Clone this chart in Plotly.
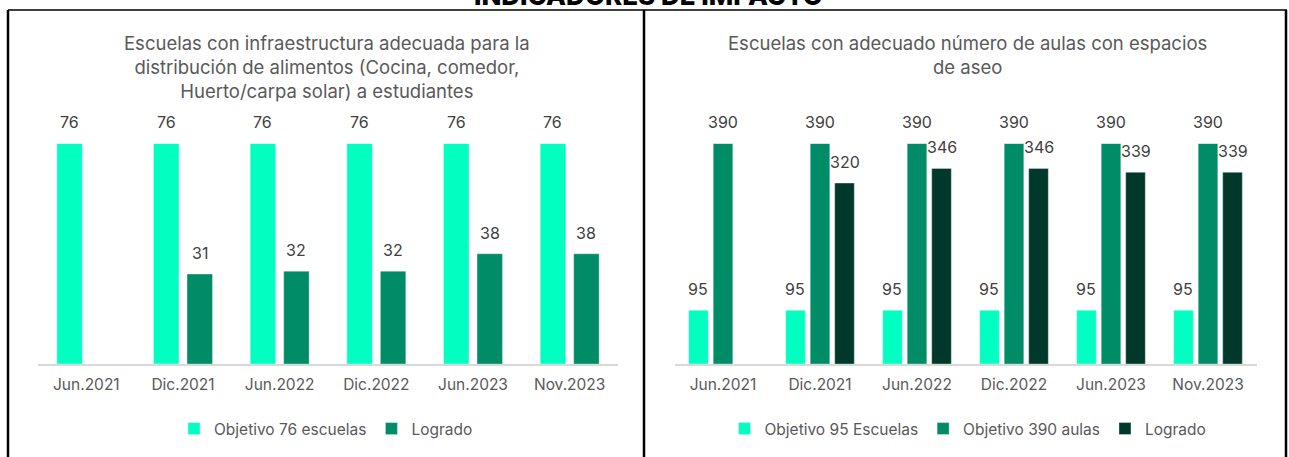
import plotly.graph_objects as go

# data
periods = ["Jun.2021", "Dic.2021", "Jun.2022", "Dic.2022", "Jun.2023", "Nov.2023"]

infra_objetivo = [76, 76, 76, 76, 76, 76]
infra_logrado = [None, 31, 32, 32, 38, 38]

aulas_objetivo_escuelas = [95, 95, 95, 95, 95, 95]
aulas_objetivo_aulas = [390, 390, 390, 390, 390, 390]
aulas_logrado = [None, 320, 346, 346, 339, 339]

W, H = 1289, 457
FONT = "Inter"
CYAN = "#00FFC0"
TEAL = "#008C66"
DARK = "#00392B"
GRAY = "#595959"


def px_x(p):
    return p / W


def px_y(p):
    return 1 - p / H


def group_geometry(n, group_frac, gap_frac):
    # width and offsets of n bars sharing one category slot
    slot = group_frac / n
    width = slot * (1 - gap_frac)
    offsets = [-group_frac / 2 + i * slot + slot * gap_frac / 2 for i in range(n)]
    return width, offsets


fig = go.Figure()
annotations = []

panels = [
    dict(xaxis="x", yaxis="y", legend="legend", group=0.693, gap=0.24,
         series=[("Objetivo 76 escuelas", infra_objetivo, CYAN),
                 ("Logrado", infra_logrado, TEAL)]),
    dict(xaxis="x2", yaxis="y2", legend="legend2", group=0.758, gap=0.2,
         series=[("Objetivo 95 Escuelas", aulas_objetivo_escuelas, CYAN),
                 ("Objetivo 390 aulas", aulas_objetivo_aulas, TEAL),
                 ("Logrado", aulas_logrado, DARK)]),
]

for panel in panels:
    width, offsets = group_geometry(len(panel["series"]), panel["group"], panel["gap"])
    for (name, values, color), off in zip(panel["series"], offsets):
        fig.add_trace(go.Bar(
            x=periods, y=values, name=name,
            xaxis=panel["xaxis"], yaxis=panel["yaxis"], legend=panel["legend"],
            width=width, offset=off,
            marker=dict(color=color, line=dict(color="rgba(255,255,255,0.35)", width=1)),
            hoverinfo="x+y+name",
        ))
        for i, v in enumerate(values):
            if v is None:
                continue
            annotations.append(dict(
                x=i + off + width / 2, y=v, xref=panel["xaxis"], yref=panel["yaxis"],
                text=str(v), showarrow=False, xanchor="center", yanchor="bottom", yshift=9,
                font=dict(family=FONT, size=16, color="#404040"),
            ))

# panel titles
annotations.append(dict(
    x=px_x(327), y=px_y(30), xref="paper", yref="paper", xanchor="center", yanchor="top",
    text="Escuelas con infraestructura adecuada para la<br>distribución de alimentos (Cocina, comedor,<br>Huerto/carpa solar) a estudiantes",
    showarrow=False, font=dict(family=FONT, size=18.5, color=GRAY),
))
annotations.append(dict(
    x=px_x(967), y=px_y(30), xref="paper", yref="paper", xanchor="center", yanchor="top",
    text="Escuelas con adecuado número de aulas con espacios<br>de aseo",
    showarrow=False, font=dict(family=FONT, size=18.5, color=GRAY),
))
# page heading, cut at the top edge
annotations.append(dict(
    x=px_x(648.5), y=px_y(13), xref="paper", yref="paper", xanchor="center", yanchor="bottom",
    text="INDICADORES DE IMPACTO", showarrow=False,
    font=dict(family=FONT, size=26, color="black", weight=800),
))

# frame lines
shapes = [
    dict(type="line", xref="paper", yref="paper", x0=px_x(8), x1=px_x(1287),
         y0=px_y(10), y1=px_y(10), line=dict(color="black", width=1.5)),
]
for xp in (8, 644, 1286):
    shapes.append(dict(type="line", xref="paper", yref="paper", x0=px_x(xp), x1=px_x(xp),
                       y0=px_y(10), y1=-0.05, line=dict(color="black", width=2.5)))

xaxis_style = dict(
    type="category", showgrid=False, zeroline=False, showline=True,
    linecolor="#D9D9D9", linewidth=2, ticks="", ticklabelstandoff=5,
    tickfont=dict(family=FONT, size=15.5, color=GRAY), fixedrange=True,
)
yaxis_style = dict(visible=False, showgrid=False, zeroline=False, fixedrange=True,
                   domain=[px_y(364), px_y(143.5)])

legend_style = dict(
    orientation="h", xanchor="center", yanchor="middle", y=px_y(429),
    font=dict(family=FONT, size=15.5, color=GRAY), bgcolor="rgba(0,0,0,0)",
    itemwidth=30, traceorder="normal",
)

fig.update_layout(
    width=W, height=H,
    margin=dict(l=0, r=0, t=0, b=0),
    paper_bgcolor="white", plot_bgcolor="white",
    barmode="overlay",
    showlegend=True,
    xaxis=dict(xaxis_style, domain=[px_x(38), px_x(618)], anchor="y"),
    yaxis=dict(yaxis_style, range=[0, max(infra_objetivo)], anchor="x"),
    xaxis2=dict(xaxis_style, domain=[px_x(674.5), px_x(1256.5)], anchor="y2"),
    yaxis2=dict(yaxis_style, range=[0, max(aulas_objetivo_aulas)], anchor="x2"),
    legend=dict(legend_style, x=px_x(326)),
    legend2=dict(legend_style, x=px_x(968)),
    annotations=annotations,
    shapes=shapes,
)

# drop the browser's default page margin so the figure sits at the window corner
fig.write_html("out.html", config={"displayModeBar": False},
               post_script="document.body.style.margin = '0';")
